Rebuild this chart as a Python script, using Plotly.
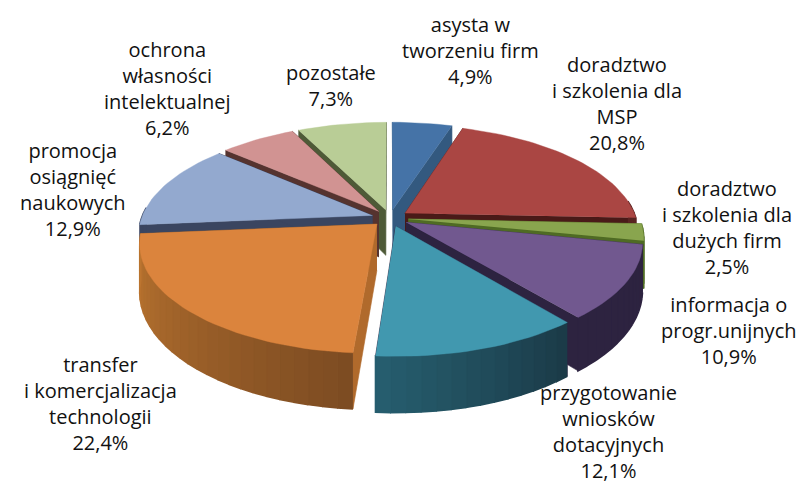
import math
import plotly.graph_objects as go

categories = ["asysta w<br>tworzeniu firm", "doradztwo<br>i szkolenia dla<br>MSP",
              "doradztwo<br>i szkolenia dla<br>dużych firm", "informacja o<br>progr.unijnych",
              "przygotowanie<br>wniosków<br>dotacyjnych", "transfer<br>i komercjalizacja<br>technologii",
              "promocja<br>osiągnięć<br>naukowych", "ochrona<br>własności<br>intelektualnej", "pozostałe"]
values = [4.9, 20.8, 2.5, 10.9, 12.1, 22.4, 12.9, 6.2, 7.3]
value_text = ["4,9%", "20,8%", "2,5%", "10,9%", "12,1%", "22,4%", "12,9%", "6,2%", "7,3%"]
top_colors = ["#4573a7", "#aa4643", "#89a54e", "#71588f", "#4198af", "#db843d", "#93a9cf", "#d19392", "#b9cd96"]
cut_colors = ["#33597f", "#4a1a18", "#4f6b24", "#2d2340", "#2d2340", "#b06a2c", "#3a4560", "#55332f", "#4e5a37"]
wall_from = ["#33597f", "#4a1a18", "#4f6b24", "#2d2340", "#1b3b48", "#7d4c22", "#3a4560", "#55332f", "#4e5a37"]
wall_to = ["#33597f", "#5a2422", "#4f6b24", "#2d2340", "#265d6e", "#bc7530", "#3a4560", "#55332f", "#4e5a37"]
label_x = [470, 617, 727, 729, 608, 100, 73, 167, 331]
label_top = [9, 49, 173, 289, 377, 349, 135, 34, 57]

CX, CY, RX, RY, K, PULL, DEPTH = 390, 218, 231, 105, 0.17, 0.08, 46


def project(u, v, drop=0.0):
    s = 1 / (1 + K * v)
    return CX + RX * u * s, CY - RY * v * s + drop * s


def mix(a, b, t):
    pa = [int(a[i:i + 2], 16) for i in (1, 3, 5)]
    pb = [int(b[i:i + 2], 16) for i in (1, 3, 5)]
    return "rgb(%d,%d,%d)" % tuple(round(x + (y - x) * t) for x, y in zip(pa, pb))


fig = go.Figure()


def poly(pts, color, width=0.6):
    fig.add_trace(go.Scatter(x=[p[0] for p in pts], y=[p[1] for p in pts], mode="lines",
                             fill="toself", fillcolor=color, line=dict(color=color, width=width),
                             hoverinfo="skip", showlegend=False))


total = sum(values)
slices, acc = [], 0.0
for i, val in enumerate(values):
    a0 = acc / total * 2 * math.pi
    acc += val
    a1 = acc / total * 2 * math.pi
    slices.append((i, a0, a1))

# painter's order: slices further back first
for i, a0, a1 in sorted(slices, key=lambda s: -math.cos((s[1] + s[2]) / 2)):
    mid = (a0 + a1) / 2
    ou, ov = PULL * math.sin(mid), PULL * math.cos(mid)
    rim = lambda a: (ou + math.sin(a), ov + math.cos(a))
    tip = (ou, ov)
    for a in (a0, a1):
        r = rim(a)
        poly([project(*tip), project(*r), project(*r, DEPTH), project(*tip, DEPTH)], cut_colors[i])
    n = max(4, int((a1 - a0) / math.radians(3)))
    for j in range(n):
        b0 = a0 + (a1 - a0) * j / n
        b1 = a0 + (a1 - a0) * (j + 1) / n
        if math.cos((b0 + b1) / 2) < 0.1:
            r0, r1 = rim(b0), rim(b1)
            poly([project(*r0), project(*r1), project(*r1, DEPTH), project(*r0, DEPTH)],
                 mix(wall_from[i], wall_to[i], j / max(1, n - 1)), width=1.6)
    m = max(6, int((a1 - a0) / math.radians(2)))
    pts = [project(*tip)] + [project(*rim(a0 + (a1 - a0) * j / m)) for j in range(m + 1)]
    poly(pts, top_colors[i], width=0.4)

for i, cat in enumerate(categories):
    fig.add_annotation(x=label_x[i], y=label_top[i], yanchor="top", xanchor="center", align="center",
                       text=f"{cat}<br>{value_text[i]}", showarrow=False,
                       font=dict(family="Open Sans", size=20, color="#111111"))

fig.update_layout(width=797, height=486, margin=dict(l=0, r=0, t=0, b=0), paper_bgcolor="white",
                  plot_bgcolor="white", showlegend=False,
                  xaxis=dict(range=[0, 797], visible=False, fixedrange=True),
                  yaxis=dict(range=[486, 0], visible=False, fixedrange=True))
fig.write_html("out.html", config={"displayModeBar": False},
               post_script="document.body.style.margin='0';document.body.style.overflow='hidden';")
